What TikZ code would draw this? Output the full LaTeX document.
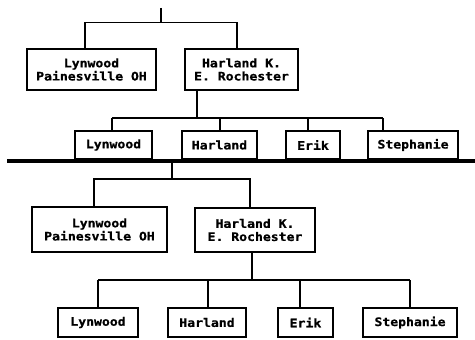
\documentclass[tikz,border=0pt]{standalone}
\usepackage{fontspec}
\newfontfamily\plotfont[FakeStretch=1.12,FakeBold=0.8]{DejaVu Sans Mono}
\begin{document}
\begin{tikzpicture}[x=0.3mm,y=-0.3mm,
   box/.style 2 args={draw,line width=1.5pt,inner sep=0pt,align=center,
     minimum width=#1*0.3mm,minimum height=#2*0.3mm,
     font=\plotfont\bfseries\fontsize{10}{11.2}\selectfont},
   link/.style={line width=1.2pt}]
   \useasboundingbox (0,0) rectangle (475,339);

   \node[box={129}{41}] (lynA) at (91.5,69.5) {Lynwood\\Painesville OH};
   \node[box={113}{41}] (harA) at (241.5,69.5) {Harland K.\\E. Rochester};
   \node[box={77}{28}] (kidA1) at (113.5,145) {Lynwood};
   \node[box={75}{28}] (kidA2) at (219.5,145) {Harland};
   \node[box={54}{28}] (kidA3) at (313,145) {Erik};
   \node[box={90}{28}] (kidA4) at (413,145) {Stephanie};

   \coordinate (root) at (161,8);
   \coordinate (busA) at (161,22.5);
   \coordinate (busAl) at (85,22.5);
   \coordinate (busAr) at (237,22.5);
   \draw[link] (root) -- (busA);
   \draw[link] (busAl |- lynA.north) -- (busAl) -- (busAr) -- (busAr |- harA.north);

   \coordinate (kidsA) at (197,118);
   \draw[link] (kidsA |- harA.south) -- (kidsA);
   \coordinate (dropA1) at (112,118);
   \coordinate (dropA2) at (220,118);
   \coordinate (dropA3) at (308,118);
   \coordinate (dropA4) at (383,118);
   \draw[link] (dropA1) -- (dropA4);
   \draw[link] (dropA1) -- (dropA1 |- kidA1.north);
   \draw[link] (dropA2) -- (dropA2 |- kidA2.north);
   \draw[link] (dropA3) -- (dropA3 |- kidA3.north);
   \draw[link] (dropA4) -- (dropA4 |- kidA4.north);

   \coordinate (ruleL) at (7,161);
   \coordinate (ruleR) at (475,161);
   \draw[line width=3.8pt] (ruleL) -- (ruleR);

   \node[box={135}{45}] (lynB) at (99.5,229.5) {Lynwood\\Painesville OH};
   \node[box={120}{44}] (harB) at (255,230) {Harland K.\\E. Rochester};
   \node[box={80}{29}] (kidB1) at (98,322.5) {Lynwood};
   \node[box={78}{29}] (kidB2) at (207,322.5) {Harland};
   \node[box={55}{29}] (kidB3) at (305.5,322.5) {Erik};
   \node[box={94}{29}] (kidB4) at (410,322.5) {Stephanie};

   \coordinate (rootB) at (172,161);
   \coordinate (busB) at (172,179);
   \coordinate (busBl) at (94,179);
   \coordinate (busBr) at (250,179);
   \draw[link] (rootB) -- (busB);
   \draw[link] (busBl |- lynB.north) -- (busBl) -- (busBr) -- (busBr |- harB.north);

   \coordinate (kidsB) at (252,280);
   \draw[link] (kidsB |- harB.south) -- (kidsB);
   \coordinate (dropB1) at (98,280);
   \coordinate (dropB2) at (208,280);
   \coordinate (dropB3) at (300,280);
   \coordinate (dropB4) at (410,280);
   \draw[link] (dropB1) -- (dropB4);
   \draw[link] (dropB1) -- (dropB1 |- kidB1.north);
   \draw[link] (dropB2) -- (dropB2 |- kidB2.north);
   \draw[link] (dropB3) -- (dropB3 |- kidB3.north);
   \draw[link] (dropB4) -- (dropB4 |- kidB4.north);
\end{tikzpicture}
\end{document}
